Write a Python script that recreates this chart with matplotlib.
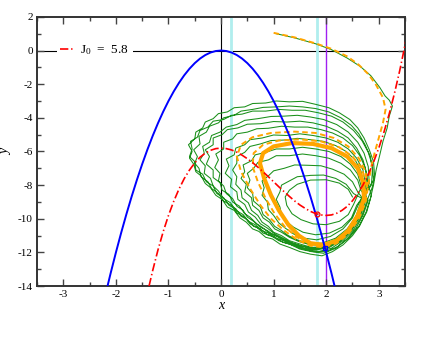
import numpy as np
import matplotlib
matplotlib.use("Agg")
import matplotlib.pyplot as plt
from matplotlib.ticker import MultipleLocator

plt.rcParams['font.family'] = ['Liberation Serif', 'DejaVu Serif']
plt.rcParams['mathtext.fontset'] = 'custom'
plt.rcParams['mathtext.rm'] = 'Liberation Serif'
plt.rcParams['mathtext.it'] = 'Liberation Serif:italic'
plt.rcParams['axes.unicode_minus'] = False
plt.rcParams['lines.scale_dashes'] = False

# nullclines
blue_x = [-2.17, -2.1, -2.0, -1.9, -1.8, -1.7, -1.6, -1.5, -1.4, -1.3, -1.2, -1.1, -1.0,
          -0.9, -0.8, -0.7, -0.6, -0.5, -0.4, -0.3, -0.2, -0.1, 0.0,
          0.1, 0.2, 0.3, 0.4, 0.5, 0.6, 0.7, 0.8, 0.9, 1.0,
          1.1, 1.2, 1.3, 1.4, 1.5, 1.6, 1.7, 1.8, 1.9, 2.0, 2.1, 2.17]
blue_y = [-14.13, -13.23, -12.0, -10.83, -9.72, -8.67, -7.68, -6.75, -5.88, -5.07, -4.32, -3.63, -3.0,
          -2.43, -1.92, -1.47, -1.08, -0.75, -0.48, -0.27, -0.12, -0.03, 0.0,
          -0.03, -0.12, -0.27, -0.48, -0.75, -1.08, -1.47, -1.92, -2.43, -3.0,
          -3.63, -4.32, -5.07, -5.88, -6.75, -7.68, -8.67, -9.72, -10.83, -12.0, -13.23, -14.13]

red_x = [-1.37, -1.3, -1.2, -1.1, -1.0, -0.9, -0.8, -0.7, -0.6, -0.5, -0.4, -0.3, -0.2, -0.1,
         0.0, 0.1, 0.2, 0.3, 0.4, 0.5, 0.6, 0.7, 0.8, 0.9, 1.0, 1.1, 1.2, 1.3, 1.4, 1.5,
         1.6, 1.7, 1.8, 1.9, 2.0, 2.1, 2.2, 2.3, 2.4, 2.5, 2.6, 2.7, 2.8, 2.9, 3.0,
         3.1, 3.2, 3.3, 3.4, 3.5, 3.6]
red_y = [-14.0, -13.07, -11.85, -10.76, -9.8, -8.96, -8.23, -7.61, -7.1, -6.68, -6.34, -6.1, -5.93, -5.83,
         -5.8, -5.83, -5.91, -6.04, -6.22, -6.43, -6.66, -6.93, -7.21, -7.5, -7.8, -8.1, -8.39, -8.67, -8.94, -9.18,
         -9.38, -9.56, -9.69, -9.77, -9.8, -9.77, -9.67, -9.5, -9.26, -8.93, -8.5, -7.99, -7.37, -6.64, -5.8,
         -4.84, -3.75, -2.53, -1.18, 0.33, 1.98]

vlines_cyan = [0.18, 1.82]
vline_purple = 2.0
J0 = 5.8

# noisy trajectory (green), read loop by loop
green_transient = [(1.05, 1.0), (1.4, 0.75), (1.8, 0.4), (2.1, 0.05), (2.4, -0.45), (2.65, -0.95),
                   (2.85, -1.5), (3.02, -2.2), (3.12, -2.7), (3.2, -2.95), (3.26, -3.3), (3.2, -3.9),
                   (3.16, -4.6), (3.08, -5.4), (3.02, -6.2), (2.95, -7.1), (2.9, -8.0)]
green_loop_a = [(2.84, -8.8), (2.76, -9.6), (2.64, -10.4), (2.5, -11.0), (2.32, -11.55), (2.12, -11.95),
                (1.92, -12.2), (1.7, -12.1), (1.5, -11.95), (1.3, -11.7), (1.12, -11.5), (0.98, -11.2),
                (0.85, -11.1), (0.72, -10.75), (0.6, -10.6), (0.48, -10.2), (0.36, -9.95), (0.25, -9.5),
                (0.12, -9.3), (0.02, -8.85), (-0.1, -8.6), (-0.2, -8.15), (-0.3, -7.9), (-0.38, -7.45),
                (-0.48, -7.2), (-0.52, -6.75), (-0.6, -6.4), (-0.55, -6.0), (-0.62, -5.6), (-0.5, -5.25),
                (-0.48, -4.85), (-0.35, -4.6), (-0.3, -4.25), (-0.15, -4.05), (-0.05, -3.75), (0.12, -3.65),
                (0.25, -3.4), (0.45, -3.35), (0.6, -3.15), (0.85, -3.12), (1.05, -3.0), (1.3, -3.05),
                (1.55, -3.02), (1.8, -3.2), (2.05, -3.4), (2.25, -3.7), (2.45, -4.1), (2.6, -4.6),
                (2.72, -5.2), (2.82, -5.9), (2.9, -6.6), (2.92, -7.4), (2.88, -8.1)]
green_loop_b = [(2.8, -8.9), (2.7, -9.8), (2.56, -10.6), (2.38, -11.25), (2.18, -11.75), (1.95, -12.05),
                (1.72, -11.95), (1.5, -11.8), (1.3, -11.5), (1.1, -11.3), (0.95, -11.0), (0.8, -10.85),
                (0.68, -10.5), (0.55, -10.3), (0.45, -9.9), (0.3, -9.65), (0.2, -9.2), (0.05, -8.95),
                (-0.05, -8.5), (-0.18, -8.2), (-0.25, -7.8), (-0.38, -7.5), (-0.42, -7.0), (-0.5, -6.7),
                (-0.45, -6.3), (-0.52, -5.9), (-0.4, -5.55), (-0.42, -5.1), (-0.28, -4.85), (-0.22, -4.5),
                (-0.05, -4.3), (0.05, -4.0), (0.25, -3.85), (0.38, -3.6), (0.6, -3.5), (0.8, -3.38),
                (1.05, -3.35), (1.3, -3.3), (1.55, -3.35), (1.8, -3.45), (2.05, -3.65), (2.28, -4.0),
                (2.48, -4.45), (2.62, -4.95), (2.74, -5.6), (2.84, -6.3), (2.88, -7.1), (2.86, -8.0)]
green_loop_c = [(2.78, -8.9), (2.68, -9.8), (2.52, -10.65), (2.32, -11.3), (2.1, -11.75), (1.85, -11.95),
                (1.6, -11.8), (1.4, -11.6), (1.2, -11.3), (1.05, -11.15), (0.9, -10.85), (0.78, -10.7),
                (0.65, -10.35), (0.52, -10.15), (0.42, -9.75), (0.28, -9.5), (0.18, -9.05), (0.05, -8.8),
                (-0.05, -8.35), (-0.15, -8.05), (-0.2, -7.6), (-0.32, -7.3), (-0.3, -6.85), (-0.4, -6.5),
                (-0.32, -6.1), (-0.35, -5.7), (-0.22, -5.45), (-0.18, -5.05), (-0.02, -4.85), (0.1, -4.55),
                (0.3, -4.4), (0.45, -4.15), (0.7, -4.05), (0.95, -3.92), (1.2, -3.9), (1.45, -3.85),
                (1.7, -3.95), (1.95, -4.1), (2.2, -4.4), (2.42, -4.85), (2.6, -5.45), (2.72, -6.1),
                (2.8, -6.9), (2.82, -7.9)]
green_loop_d = [(2.74, -8.9), (2.63, -9.85), (2.47, -10.7), (2.26, -11.35), (2.02, -11.7), (1.78, -11.8),
                (1.55, -11.65), (1.35, -11.45), (1.18, -11.2), (1.02, -11.0), (0.88, -10.7), (0.75, -10.5),
                (0.62, -10.15), (0.5, -9.9), (0.42, -9.5), (0.3, -9.25), (0.22, -8.8), (0.1, -8.5),
                (0.05, -8.05), (-0.05, -7.75), (-0.02, -7.3), (-0.12, -6.95), (-0.05, -6.5), (-0.1, -6.15),
                (0.05, -5.85), (0.05, -5.45), (0.22, -5.25), (0.3, -4.95), (0.5, -4.85), (0.68, -4.65),
                (0.9, -4.62), (1.15, -4.5), (1.4, -4.55), (1.65, -4.55), (1.9, -4.7), (2.12, -4.9),
                (2.32, -5.2), (2.5, -5.65), (2.64, -6.25), (2.74, -6.95), (2.78, -7.8)]
green_loop_e = [(2.7, -8.9), (2.6, -9.9), (2.44, -10.7), (2.22, -11.3), (1.98, -11.65), (1.72, -11.7),
                (1.5, -11.5), (1.3, -11.3), (1.15, -11.0), (1.0, -10.8), (0.9, -10.45), (0.78, -10.2),
                (0.7, -9.8), (0.58, -9.5), (0.52, -9.05), (0.4, -8.75), (0.38, -8.3), (0.28, -7.95),
                (0.3, -7.5), (0.22, -7.1), (0.3, -6.7), (0.3, -6.3), (0.45, -6.05), (0.55, -5.7),
                (0.75, -5.55), (0.95, -5.35), (1.2, -5.32), (1.45, -5.22), (1.7, -5.3), (1.95, -5.4),
                (2.18, -5.65), (2.38, -6.0), (2.55, -6.5), (2.66, -7.15), (2.72, -8.0)]
green_loop_f = [(2.66, -9.0), (2.56, -9.9), (2.4, -10.6), (2.18, -11.15), (1.92, -11.45), (1.66, -11.45),
                (1.45, -11.25), (1.28, -11.0), (1.15, -10.7), (1.02, -10.45), (0.92, -10.05), (0.8, -9.75),
                (0.75, -9.3), (0.62, -8.95), (0.6, -8.5), (0.5, -8.15), (0.55, -7.7), (0.5, -7.3),
                (0.62, -7.0), (0.7, -6.65), (0.9, -6.5), (1.05, -6.25), (1.3, -6.25), (1.55, -6.15),
                (1.8, -6.25), (2.05, -6.4), (2.28, -6.7), (2.46, -7.1), (2.6, -7.7), (2.66, -8.3)]
green_loop_g = [(2.62, -9.1), (2.5, -9.95), (2.32, -10.6), (2.08, -11.05), (1.82, -11.25), (1.58, -11.15),
                (1.38, -10.9), (1.22, -10.55), (1.1, -10.25), (1.0, -9.8), (0.9, -9.45), (0.88, -9.0),
                (0.78, -8.6), (0.82, -8.15), (0.78, -7.75), (0.9, -7.45), (1.0, -7.15), (1.2, -7.0),
                (1.4, -6.8), (1.65, -6.82), (1.9, -6.85), (2.12, -7.05), (2.34, -7.35), (2.5, -7.8),
                (2.6, -8.4)]
green_loop_h = [(2.58, -9.2), (2.48, -9.95), (2.3, -10.5), (2.06, -10.85), (1.8, -10.95), (1.56, -10.8),
                (1.38, -10.5), (1.24, -10.15), (1.15, -9.75), (1.12, -9.3), (1.05, -8.85), (1.12, -8.4),
                (1.15, -8.0), (1.3, -7.75), (1.45, -7.5), (1.7, -7.42), (1.95, -7.4), (2.18, -7.6),
                (2.38, -7.95), (2.52, -8.5)]
green_loop_i = [(2.52, -9.15), (2.42, -9.75), (2.25, -10.15), (2.0, -10.35), (1.75, -10.3), (1.52, -10.05),
                (1.35, -9.7), (1.25, -9.2), (1.22, -8.7), (1.3, -8.3), (1.45, -7.95), (1.7, -7.7),
                (2.0, -7.68), (2.25, -7.88), (2.42, -8.25), (2.5, -8.7)]
green_loop_j = [(2.86, -8.6), (2.77, -9.6), (2.62, -10.45), (2.44, -11.1), (2.22, -11.65), (2.0, -11.95),
                (1.76, -11.95), (1.55, -11.8), (1.35, -11.55), (1.18, -11.4), (1.02, -11.1), (0.88, -10.95),
                (0.75, -10.6), (0.62, -10.45), (0.5, -10.05), (0.38, -9.85), (0.28, -9.4), (0.15, -9.2),
                (0.05, -8.75), (-0.08, -8.5), (-0.15, -8.05), (-0.28, -7.8), (-0.35, -7.35), (-0.48, -7.1),
                (-0.5, -6.6), (-0.6, -6.3), (-0.55, -5.85), (-0.58, -5.4), (-0.45, -5.15), (-0.4, -4.75),
                (-0.25, -4.55), (-0.15, -4.2), (0.05, -4.1), (0.2, -3.85), (0.4, -3.78), (0.6, -3.6),
                (0.85, -3.6), (1.1, -3.5), (1.35, -3.55), (1.6, -3.55), (1.85, -3.7), (2.1, -3.9),
                (2.32, -4.25), (2.52, -4.75), (2.68, -5.35), (2.8, -6.05), (2.88, -6.85), (2.9, -7.7)]
green_loop_k = [(2.72, -8.9), (2.62, -9.9), (2.45, -10.75), (2.24, -11.35), (2.0, -11.7), (1.75, -11.75),
                (1.52, -11.6), (1.32, -11.4), (1.15, -11.1), (1.02, -10.9), (0.88, -10.55), (0.75, -10.3),
                (0.65, -9.9), (0.52, -9.6), (0.45, -9.15), (0.32, -8.85), (0.3, -8.4), (0.18, -8.1),
                (0.2, -7.65), (0.08, -7.3), (0.15, -6.85), (0.1, -6.45), (0.25, -6.2), (0.28, -5.8),
                (0.45, -5.6), (0.55, -5.3), (0.78, -5.2), (1.0, -5.02), (1.25, -5.05), (1.5, -4.95),
                (1.75, -5.05), (2.0, -5.2), (2.22, -5.45), (2.42, -5.85), (2.58, -6.4), (2.7, -7.1),
                (2.75, -8.0)]
green_loop_l = [(2.76, -8.8), (2.66, -9.75), (2.5, -10.6), (2.3, -11.25), (2.06, -11.7), (1.82, -11.85),
                (1.58, -11.75), (1.38, -11.5), (1.2, -11.3), (1.05, -11.0), (0.92, -10.85), (0.78, -10.5),
                (0.68, -10.3), (0.55, -9.9), (0.45, -9.7), (0.35, -9.25), (0.22, -9.0), (0.15, -8.55),
                (0.02, -8.3), (-0.02, -7.85), (-0.15, -7.55), (-0.15, -7.1), (-0.28, -6.75), (-0.22, -6.3),
                (-0.3, -5.9), (-0.15, -5.6), (-0.15, -5.2), (0.02, -5.0), (0.12, -4.7), (0.32, -4.6),
                (0.5, -4.38), (0.75, -4.35), (1.0, -4.22), (1.25, -4.25), (1.5, -4.2), (1.75, -4.3),
                (2.0, -4.5), (2.22, -4.8), (2.42, -5.2), (2.58, -5.8), (2.7, -6.5), (2.78, -7.4),
                (2.78, -8.2)]
green_loop_m = [(2.68, -9.0), (2.58, -9.9), (2.42, -10.65), (2.2, -11.2), (1.95, -11.55), (1.7, -11.55),
                (1.48, -11.35), (1.3, -11.1), (1.15, -10.8), (1.02, -10.6), (0.92, -10.2), (0.8, -9.95),
                (0.72, -9.5), (0.6, -9.2), (0.58, -8.75), (0.45, -8.4), (0.48, -7.95), (0.38, -7.6),
                (0.45, -7.2), (0.42, -6.8), (0.58, -6.55), (0.65, -6.2), (0.85, -6.05), (1.05, -5.85),
                (1.3, -5.85), (1.55, -5.75), (1.8, -5.85), (2.05, -6.0), (2.28, -6.3), (2.46, -6.75),
                (2.6, -7.35), (2.67, -8.1)]

# deterministic trajectory (orange)
orange_transient = [(1.0, 1.05), (1.4, 0.78), (1.8, 0.42), (2.1, 0.1), (2.4, -0.35), (2.62, -0.85),
                    (2.8, -1.4), (2.95, -2.05), (3.08, -2.8), (3.13, -3.5), (3.08, -4.3), (3.0, -5.2),
                    (2.92, -6.1), (2.85, -7.0), (2.8, -8.0)]
orange_loop_outer = [(2.75, -9.0), (2.62, -10.0), (2.42, -10.9), (2.2, -11.45), (1.95, -11.7), (1.7, -11.6),
                     (1.45, -11.25), (1.2, -10.7), (0.95, -10.0), (0.75, -9.2), (0.55, -8.2), (0.38, -7.2),
                     (0.3, -6.3), (0.38, -5.6), (0.6, -5.15), (0.95, -4.9), (1.4, -4.82), (1.8, -4.9),
                     (2.15, -5.2), (2.42, -5.7), (2.62, -6.4), (2.75, -7.2), (2.78, -8.1)]
orange_loop_mid = [(2.72, -9.0), (2.58, -10.0), (2.4, -10.8), (2.18, -11.35), (1.95, -11.6), (1.7, -11.5),
                   (1.45, -11.1), (1.22, -10.5), (1.02, -9.7), (0.85, -8.8), (0.7, -7.8), (0.6, -6.9),
                   (0.62, -6.1), (0.8, -5.6), (1.1, -5.35), (1.5, -5.28), (1.9, -5.4), (2.25, -5.75),
                   (2.5, -6.3), (2.68, -7.0), (2.75, -7.9)]
orange_cycle = [(2.72, -8.8), (2.6, -9.8), (2.42, -10.7), (2.2, -11.3), (1.95, -11.55), (1.7, -11.45),
                (1.48, -11.0), (1.28, -10.35), (1.1, -9.5), (0.95, -8.6), (0.82, -7.6), (0.74, -6.7),
                (0.8, -6.1), (1.0, -5.7), (1.35, -5.5), (1.75, -5.55), (2.1, -5.8), (2.4, -6.3),
                (2.6, -7.0), (2.7, -7.8), (2.72, -8.8)]

green_path = np.array(green_transient + green_loop_a + green_loop_c + green_loop_f + green_loop_b
                      + green_loop_h + green_loop_d + green_loop_j + green_loop_g + green_loop_k
                      + green_loop_l + green_loop_e + green_loop_m + green_loop_i)
orange_path = np.array(orange_transient + orange_loop_outer + orange_loop_mid + orange_cycle)
cycle = np.array(orange_cycle)

fig = plt.figure(figsize=(4.36, 3.37), dpi=100)
ax = fig.add_axes([0.085, 0.151, 0.844, 0.799])

ax.axhline(0, color='black', lw=0.8, zorder=1)
ax.axvline(0, color='black', lw=0.8, zorder=1)
for xv in vlines_cyan:
    ax.axvline(xv, color='#b0eeee', lw=2.0, zorder=1)
ax.axvline(vline_purple, color='#a020f0', lw=1.0, zorder=1)

ax.plot(green_path[:, 0], green_path[:, 1], color='#1a901a', lw=0.75, zorder=2)
ax.plot(cycle[:, 0], cycle[:, 1], color='orange', lw=3.0, zorder=3)
ax.plot(orange_path[:, 0], orange_path[:, 1], color='orange', lw=1.4,
        dashes=(4, 2.5), zorder=3)

ax.plot(blue_x, blue_y, color='blue', lw=1.4, zorder=4)
ax.plot(red_x, red_y, color='red', lw=1.2, dashes=(6, 2, 1, 2), zorder=5,
        label=r'J$_0$  =  %.1f' % J0)
ax.plot([1.82], [-9.7], marker='o', ms=3.5, mfc='none', mec='red', mew=0.9, zorder=6)
ax.plot([1.98], [-11.75], marker='s', ms=2.5, mfc='none', mec='blue', mew=0.9, zorder=6)

ax.set_xlim(-3.5, 3.5)
ax.set_ylim(-14, 2)
ax.xaxis.set_major_locator(MultipleLocator(1))
ax.xaxis.set_minor_locator(MultipleLocator(0.5))
ax.yaxis.set_major_locator(MultipleLocator(2))
ax.yaxis.set_minor_locator(MultipleLocator(1))
ax.tick_params(which='both', direction='in', top=True, right=True, labelsize=8, pad=3,
               color='#444444', width=1.0)
ax.tick_params(which='major', length=5)
ax.tick_params(which='minor', length=3)
for sp in ax.spines.values():
    sp.set_linewidth(1.4)
    sp.set_color('#333333')

ax.set_xlabel('x', fontstyle='italic', fontsize=10, labelpad=0)
ax.set_ylabel('y', fontstyle='italic', fontsize=10, labelpad=4)

leg = ax.legend(loc='upper left', bbox_to_anchor=(0.035, 0.94), fontsize=9.5, handlelength=1.0,
                handletextpad=0.5, borderpad=0.3, frameon=True, framealpha=1, fancybox=False)
leg.get_frame().set_edgecolor('none')
leg.set_zorder(10)

fig.savefig('out.png', dpi=100)
